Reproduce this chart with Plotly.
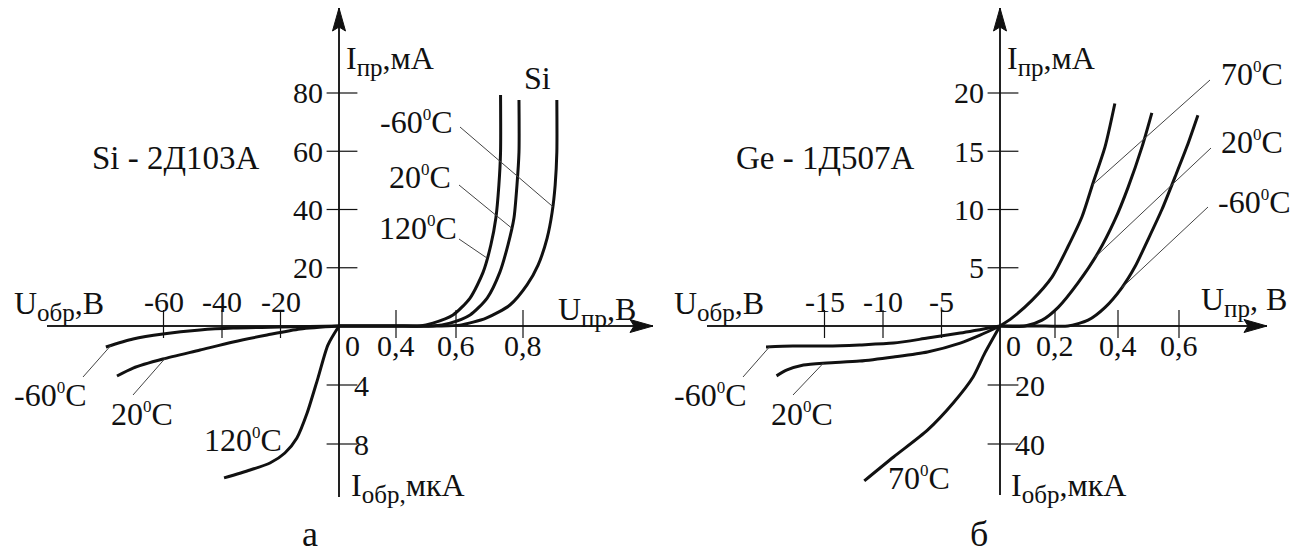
import numpy as np
import plotly.graph_objects as go

W, H = 1307, 555

# ---------------- data: panel "а" (Si - 2Д103А) ----------------
# forward branch: U (V), I (mA)
SI_FWD_V_M60 = [0.0, 0.2, 0.4, 0.537, 0.612, 0.690, 0.761, 0.812, 0.845, 0.872, 0.887, 0.896, 0.901, 0.901]
SI_FWD_I_M60 = [0, 0, 0, 0, 0.3, 2.7, 7.2, 14.1, 20.9, 30.2, 39.1, 48.4, 59.7, 77.6]
SI_FWD_V_20 = [0.0, 0.2, 0.4, 0.523, 0.580, 0.642, 0.693, 0.731, 0.755, 0.773, 0.782, 0.788, 0.788]
SI_FWD_I_20 = [0, 0, 0, 0, 1.0, 3.8, 9.6, 18.5, 27.8, 37.1, 48.4, 59.7, 77.6]
SI_FWD_V_120 = [0.0, 0.2, 0.4, 0.480, 0.523, 0.590, 0.642, 0.681, 0.704, 0.719, 0.728, 0.733, 0.733]
SI_FWD_I_120 = [0, 0, 0, 0, 1.0, 3.8, 9.6, 18.5, 27.8, 37.1, 48.4, 59.7, 79.3]
# reverse branch: U (V), I (uA)
SI_REV_V_M60 = [-79.7, -70.4, -60.2, -47.5, -36.2, -20.2, 0]
SI_REV_I_M60 = [-1.42, -0.88, -0.54, -0.27, -0.14, -0.07, 0]
SI_REV_V_20 = [-75.9, -70.4, -60.2, -47.5, -36.2, -24.6, -13.3, 0]
SI_REV_I_20 = [-3.39, -2.85, -2.24, -1.63, -1.08, -0.61, -0.20, 0]
SI_REV_V_120 = [-39.3, -30.4, -23.6, -18.5, -14.4, -10.9, -7.2, -3.8, 0]
SI_REV_I_120 = [-10.3, -9.76, -9.29, -8.61, -7.59, -5.9, -3.53, -1.29, 0]

SI_XTICKS_NEG = [-60, -40, -20]
SI_XTICKS_POS = [0.4, 0.6, 0.8]
SI_YTICKS_POS = [20, 40, 60, 80]
SI_YTICKS_NEG = [-4, -8]

# ---------------- data: panel "б" (Ge - 1Д507А) ----------------
GE_FWD_V_M60 = [0.0, 0.164, 0.241, 0.305, 0.359, 0.413, 0.456, 0.498, 0.544, 0.587, 0.626, 0.662]
GE_FWD_I_M60 = [0, 0, 0, 0.5, 1.6, 3.3, 5.1, 7.4, 10.0, 12.8, 15.4, 18.1]
GE_FWD_V_20 = [0.0, 0.091, 0.153, 0.210, 0.273, 0.337, 0.390, 0.433, 0.479, 0.511]
GE_FWD_I_20 = [0, 0, 0.5, 1.6, 3.7, 6.3, 9.1, 11.9, 15.4, 18.3]
GE_FWD_V_70 = [0.0, 0.044, 0.116, 0.189, 0.241, 0.286, 0.321, 0.359, 0.390]
GE_FWD_I_70 = [0, 0.7, 2.2, 4.2, 6.8, 9.4, 12.3, 15.4, 19.1]
GE_REV_V_M60 = [-20.0, -17.7, -14.8, -12.0, -9.1, -6.2, -3.4, 0]
GE_REV_I_M60 = [-7.1, -6.8, -6.8, -6.4, -5.8, -4.1, -2.4, 0]
GE_REV_V_20 = [-19.1, -18.2, -16.8, -14.8, -12.0, -9.1, -6.2, -3.4, -1.7, 0]
GE_REV_I_20 = [-16.9, -14.9, -13.2, -12.5, -11.9, -10.5, -8.8, -5.8, -3.1, 0]
GE_REV_V_70 = [-11.6, -9.1, -6.2, -4.0, -2.3, -1.3, 0]
GE_REV_I_70 = [-52.5, -44.4, -35.3, -26.1, -17.3, -9.2, 0]

GE_XTICKS_NEG = [-15, -10, -5]
GE_XTICKS_POS = [0.2, 0.4, 0.6]
GE_YTICKS_POS = [5, 10, 15, 20]
GE_YTICKS_NEG = [-20, -40]


# ---------------- scales (broken axes of the original drawing) ----------------
def piecewise(vals, offs):
    vals = np.asarray(vals, float)
    offs = np.asarray(offs, float)
    lo = (offs[1] - offs[0]) / (vals[1] - vals[0])
    hi = (offs[-1] - offs[-2]) / (vals[-1] - vals[-2])

    def f(v):
        v = np.asarray(v, float)
        out = np.interp(v, vals, offs)
        out = np.where(v < vals[0], offs[0] + (v - vals[0]) * lo, out)
        out = np.where(v > vals[-1], offs[-1] + (v - vals[-1]) * hi, out)
        return out
    return f


FONT = "Liberation Serif, Times New Roman, serif"
INK = "#111111"
FS_TICK = 30
FS_LAB = 32
DEG = '<sup><span style="font-size:17px">0</span></sup>'


def SUB(s):
    return '<sub><span style="font-size:25px">' + s + '</span></sub>'


PANELS = [
    dict(xa="x", ya="y", ox=339, oy=326, left=47, right=653, top=8, bottom=497,
         xs=piecewise([-60, -40, -20, 0, 0.4, 0.6, 0.8], [-175.5, -117, -58.5, 0, 57, 117, 184]),
         yf=58.25 / 20, yr=59 / 4),
    dict(xa="x2", ya="y2", ox=1000, oy=326, left=707, right=1267, top=8, bottom=495,
         xs=piecewise([-15, -10, -5, 0, 0.2, 0.4, 0.6], [-175.5, -117, -58.5, 0, 55, 118, 179]),
         yf=58.25 / 5, yr=59 / 20),
]

fig = go.Figure()
annotations = []
shapes = []


def line_trace(p, x, y, width=3, color=INK, smooth=True):
    fig.add_trace(go.Scatter(
        x=x, y=y, mode="lines", xaxis=p["xa"], yaxis=p["ya"],
        line=dict(color=color, width=width, shape="spline" if smooth else "linear", smoothing=0.7),
        hoverinfo="skip", showlegend=False, cliponaxis=False))


def text(px, py, s, anchor="left", size=FS_LAB):
    annotations.append(dict(
        x=px / W, y=1 - py / H, xref="paper", yref="paper", text=s,
        showarrow=False, xanchor=anchor, yanchor="middle",
        font=dict(family=FONT, size=size, color=INK)))


def tick_label(p, x, y, s, anchor, xshift=0, yshift=0):
    annotations.append(dict(
        x=x, y=y, xref=p["xa"], yref=p["ya"], text=s, showarrow=False,
        xanchor=anchor, yanchor="middle", xshift=xshift, yshift=yshift,
        font=dict(family=FONT, size=FS_TICK, color=INK)))


def fmt(v):
    return ("%g" % v).replace(".", ",")


def build_axes(p, xt_neg, xt_pos, yt_pos, yt_neg):
    # arrow heads
    xe = p["right"] - p["ox"]
    ye = p["oy"] - p["top"]
    shapes.append(dict(type="path", xref=p["xa"], yref=p["ya"],
                       path=f"M{xe},0 L{xe-23},6.5 L{xe-19},0 L{xe-23},-6.5 Z",
                       fillcolor=INK, line=dict(color=INK, width=1)))
    shapes.append(dict(type="path", xref=p["xa"], yref=p["ya"],
                       path=f"M0,{ye} L-6.5,{ye-23} L0,{ye-19} L6.5,{ye-23} Z",
                       fillcolor=INK, line=dict(color=INK, width=1)))
    # tick marks
    xt = list(xt_neg) + list(xt_pos)
    fig.add_trace(go.Scatter(
        x=p["xs"](xt), y=[2] * len(xt), mode="markers", xaxis=p["xa"], yaxis=p["ya"],
        marker=dict(symbol="line-ns", size=20, line=dict(color=INK, width=1.2)),
        hoverinfo="skip", showlegend=False, cliponaxis=False))
    yt = [v * p["yf"] for v in yt_pos] + [v * p["yr"] for v in yt_neg]
    fig.add_trace(go.Scatter(
        x=[3] * len(yt), y=yt, mode="markers", xaxis=p["xa"], yaxis=p["ya"],
        marker=dict(symbol="line-ew", size=22, line=dict(color=INK, width=1.2)),
        hoverinfo="skip", showlegend=False, cliponaxis=False))
    # tick labels
    for v in xt_neg:
        tick_label(p, float(p["xs"](v)), 0, fmt(v), "center", yshift=25)
    for v in xt_pos:
        tick_label(p, float(p["xs"](v)), 0, fmt(v), "center", yshift=-19)
    tick_label(p, 4, 0, "0", "left", yshift=-19)
    for v in yt_pos:
        tick_label(p, 0, v * p["yf"], fmt(v), "right", xshift=-14)
    for v in yt_neg:
        tick_label(p, 0, v * p["yr"], fmt(-v), "left", xshift=13)


def draw_curves(p, fwd, rev):
    for V, I in fwd:
        line_trace(p, p["xs"](V), np.asarray(I, float) * p["yf"])
    for V, I in rev:
        line_trace(p, p["xs"](V), np.asarray(I, float) * p["yr"])


def leader_fwd(p, lx, ly, V, I, level):
    v = float(np.interp(level, I, V))
    line_trace(p, [lx - p["ox"], float(p["xs"](v))], [p["oy"] - ly, level * p["yf"]],
               width=1, color="#444444", smooth=False)


def leader_rev(p, lx, ly, V, I, volt):
    i = float(np.interp(volt, V, I))
    line_trace(p, [lx - p["ox"], float(p["xs"](volt))], [p["oy"] - ly, i * p["yr"]],
               width=1, color="#444444", smooth=False)


# ---------------- panel а ----------------
pa = PANELS[0]
build_axes(pa, SI_XTICKS_NEG, SI_XTICKS_POS, SI_YTICKS_POS, SI_YTICKS_NEG)
draw_curves(pa,
            [(SI_FWD_V_M60, SI_FWD_I_M60), (SI_FWD_V_20, SI_FWD_I_20), (SI_FWD_V_120, SI_FWD_I_120)],
            [(SI_REV_V_M60, SI_REV_I_M60), (SI_REV_V_20, SI_REV_I_20), (SI_REV_V_120, SI_REV_I_120)])
leader_fwd(pa, 460, 127, SI_FWD_V_M60, SI_FWD_I_M60, 41.0)
leader_fwd(pa, 459, 185, SI_FWD_V_20, SI_FWD_I_20, 33.6)
leader_fwd(pa, 459, 239, SI_FWD_V_120, SI_FWD_I_120, 23.3)
leader_rev(pa, 83, 377, SI_REV_V_M60, SI_REV_I_M60, -78.0)
leader_rev(pa, 133, 395, SI_REV_V_20, SI_REV_I_20, -59.5)

text(176, 158, "Si - 2Д103А", "center", size=33)
text(344, 60, "I" + SUB("пр") + ",мА")
text(537, 78, "Si", "center")
text(455, 122, "-60" + DEG + "C", "right")
text(453, 177, "20" + DEG + "C", "right")
text(459, 228, "120" + DEG + "C", "right")
text(12, 305, "U" + SUB("обр") + ",В")
text(556, 311, "U" + SUB("пр") + ",В")
text(349, 487, "I" + SUB("обр,") + "мкА")
text(12, 395, "-60" + DEG + "C")
text(109, 414, "20" + DEG + "C")
text(202, 440, "120" + DEG + "C")
text(310, 534, "а", "center", size=36)

# ---------------- panel б ----------------
pb = PANELS[1]
build_axes(pb, GE_XTICKS_NEG, GE_XTICKS_POS, GE_YTICKS_POS, GE_YTICKS_NEG)
draw_curves(pb,
            [(GE_FWD_V_M60, GE_FWD_I_M60), (GE_FWD_V_20, GE_FWD_I_20), (GE_FWD_V_70, GE_FWD_I_70)],
            [(GE_REV_V_M60, GE_REV_I_M60), (GE_REV_V_20, GE_REV_I_20), (GE_REV_V_70, GE_REV_I_70)])
leader_fwd(pb, 1210, 80, GE_FWD_V_70, GE_FWD_I_70, 12.1)
leader_fwd(pb, 1211, 148, GE_FWD_V_20, GE_FWD_I_20, 5.9)
leader_fwd(pb, 1208, 207, GE_FWD_V_M60, GE_FWD_I_M60, 3.3)
leader_rev(pb, 743, 377, GE_REV_V_M60, GE_REV_I_M60, -19.7)
leader_rev(pb, 793, 395, GE_REV_V_20, GE_REV_I_20, -15.1)

text(825, 158, "Ge - 1Д507А", "center", size=33)
text(1005, 60, "I" + SUB("пр") + ",мА")
text(1219, 74, "70" + DEG + "C")
text(1219, 142, "20" + DEG + "C")
text(1216, 202, "-60" + DEG + "C")
text(672, 305, "U" + SUB("обр") + ",В")
text(1199, 301, "U" + SUB("пр") + ", В")
text(1009, 487, "I" + SUB("обр") + ",мкА")
text(672, 395, "-60" + DEG + "C")
text(769, 414, "20" + DEG + "C")
text(886, 478, "70" + DEG + "C")
text(979, 534, "б", "center", size=36)

# ---------------- layout ----------------
layout = dict(width=W, height=H, margin=dict(l=0, r=0, t=0, b=0),
              paper_bgcolor="white", plot_bgcolor="rgba(0,0,0,0)",
              annotations=annotations, shapes=shapes, showlegend=False)
for i, p in enumerate(PANELS):
    sx = "" if i == 0 else str(i + 1)
    common = dict(showgrid=False, zeroline=True, zerolinecolor="#222222", zerolinewidth=2,
                  showticklabels=False, ticks="", showline=False, fixedrange=True)
    layout["xaxis" + sx] = dict(domain=[p["left"] / W, p["right"] / W],
                                range=[p["left"] - p["ox"], p["right"] - p["ox"]],
                                anchor=p["ya"], **common)
    layout["yaxis" + sx] = dict(domain=[(H - p["bottom"]) / H, (H - p["top"]) / H],
                                range=[p["oy"] - p["bottom"], p["oy"] - p["top"]],
                                anchor=p["xa"], **common)
fig.update_layout(**layout)
fig.write_html("out.html", config={"displayModeBar": False},
               post_script="document.body.style.margin='0';document.body.style.overflow='hidden';")
